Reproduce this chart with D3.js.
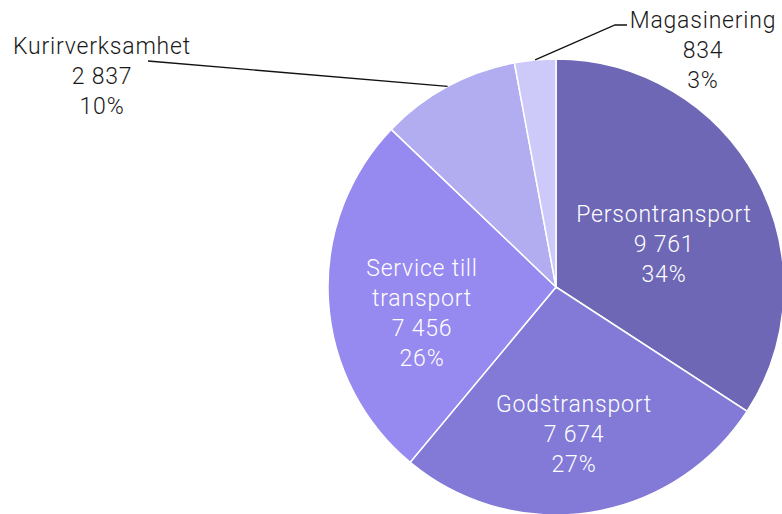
<!DOCTYPE html>
<html>
<head>
<meta charset="utf-8">
<script src="https://cdn.jsdelivr.net/npm/d3@7"></script>
<style>
  body { margin: 0; background: #fff; }
  text { font-family: Roboto, "DejaVu Sans", sans-serif; }
</style>
</head>
<body>
<div id="canvas"></div>
<script>
// data
const categories = ["Persontransport", "Godstransport", "Service till transport", "Kurirverksamhet", "Magasinering"];
const values = [9761, 7674, 7456, 2837, 834];
const colors = ["#6e67b5", "#827ad6", "#9689ef", "#b2adf1", "#cdcaf9"];

// dimensions
const width = 782;
const height = 514;
const cx = 556, cy = 287, radius = 228;
const fontSize = 23;
const lineHeight = 30;

// label layout: inside labels placed in the slice, outside labels with leader lines
const labelLayout = [
  {inside: true, lines: ["Persontransport"], x: 664, y: 214},
  {inside: true, lines: ["Godstransport"], x: 574, y: 404},
  {inside: true, lines: ["Service till", "transport"], x: 422, y: 268},
  {inside: false, lines: ["Kurirverksamhet"], x: 102, y: 46, elbow: [148, 61], end: [148, 61]},
  {inside: false, lines: ["Magasinering"], x: 703, y: 20, elbow: [615, 25], end: [627, 25]}
];

const svg = d3.select("#canvas").append("svg")
  .attr("width", width)
  .attr("height", height);

const fmt = d3.formatLocale({decimal: ",", thousands: " ", grouping: [3], currency: ["", " kr"]}).format(",d");
const total = d3.sum(values);

const pie = d3.pie().sort(null).value(d => d);
const arcs = pie(values);
const arc = d3.arc().innerRadius(0).outerRadius(radius);

const pieGroup = svg.append("g")
  .attr("transform", `translate(${cx}, ${cy})`);

pieGroup.selectAll("path")
  .data(arcs)
  .enter()
  .append("path")
  .attr("d", arc)
  .attr("fill", (d, i) => colors[i])
  .attr("stroke", "#fff")
  .attr("stroke-width", 1.5);

// leader lines
arcs.forEach(function(a, i) {
  const lay = labelLayout[i];
  if (lay.inside) return;
  const mid = (a.startAngle + a.endAngle) / 2;
  const px = cx + radius * Math.sin(mid);
  const py = cy - radius * Math.cos(mid);
  svg.append("polyline")
    .attr("points", [[px, py], lay.elbow, lay.end].map(p => p.join(",")).join(" "))
    .attr("fill", "none")
    .attr("stroke", "#111")
    .attr("stroke-width", 1.3);
});

// labels
arcs.forEach(function(a, i) {
  const lay = labelLayout[i];
  const lines = lay.lines.concat([fmt(values[i]), Math.round(values[i] / total * 100) + "%"]);
  const t = svg.append("text")
    .attr("text-anchor", "middle")
    .attr("dominant-baseline", "central")
    .attr("font-size", fontSize)
    .attr("font-weight", 300)
    .attr("letter-spacing", 0.8)
    .attr("fill", lay.inside ? "#fff" : "#1a1a1a");
  lines.forEach(function(l, j) {
    t.append("tspan")
      .attr("x", lay.x)
      .attr("y", lay.y + j * lineHeight)
      .text(l);
  });
});
</script>
</body>
</html>
